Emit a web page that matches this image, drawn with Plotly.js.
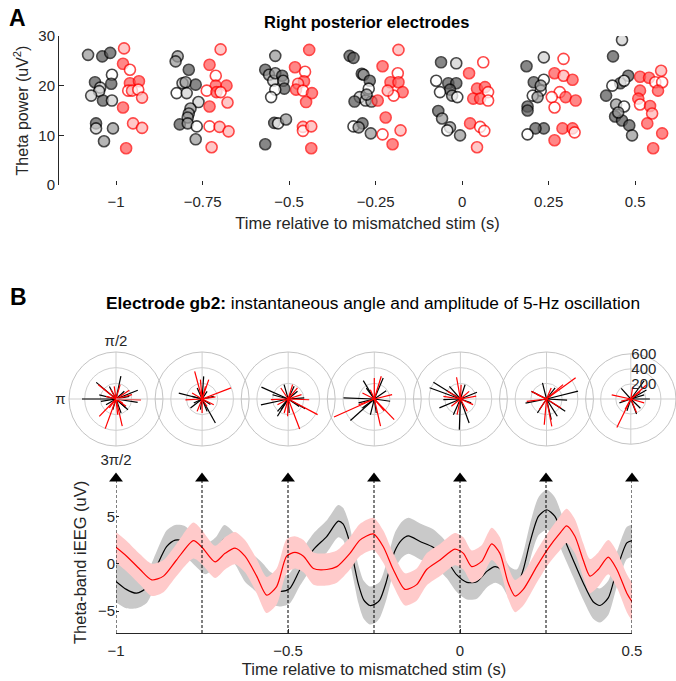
<!DOCTYPE html>
<html><head><meta charset="utf-8">
<script src="https://cdn.plot.ly/plotly-3.0.1.min.js"></script>
<style>html,body{margin:0;padding:0;background:#fff}#chart{width:676px;height:681px}</style>
</head><body><div id="chart"></div>
<script>
// ---------- Panel A data ----------
const times = [-1, -0.75, -0.5, -0.25, 0, 0.25, 0.5];
const blackPower = [
 [26.2,25.9,26.6,20.7,19.6,18.9,18.0,17.0,17.0,22.2,20.4,12.4,11.4,11.4,8.8],
 [25.9,24.9,23.2,20.5,20.7,20.2,18.5,18.5,16.7,15.4,14.4,13.6,12.2,12.4,11.8,9.2],
 [26.0,23.2,22.2,21.0,22.5,22.0,21.0,19.4,19.2,17.7,8.2,12.5,12.4,13.2],
 [26.0,25.6,22.4,22.2,21.0,19.4,17.7,16.8,17.0,16.8,11.8,12.4,11.6,10.4,18.2],
 [24.7,24.5,21.0,20.5,20.5,19.2,18.7,18.0,17.7,14.9,13.4,11.6,11.0,10.0],
 [23.9,25.7,20.7,21.2,19.0,18.0,17.7,15.8,15.0,11.4,11.4,10.2,20.0],
 [29.2,25.9,22.0,20.5,20.0,21.0,18.0,16.2,15.8,13.8,13.0,12.0,10.0,14.6]
];
const blackJitter = [
 [-0.081,-0.040,-0.017,-0.061,-0.046,-0.049,-0.072,-0.038,-0.012,-0.012,-0.014,-0.058,-0.058,-0.009,-0.035],
 [-0.072,-0.078,-0.040,-0.058,-0.049,-0.020,-0.075,-0.046,-0.012,-0.035,-0.040,-0.043,-0.066,-0.043,-0.017,-0.020],
 [-0.040,-0.069,-0.058,-0.046,-0.040,-0.020,-0.017,-0.014,-0.040,-0.052,-0.069,-0.043,-0.032,-0.009],
 [-0.075,-0.064,-0.040,-0.035,-0.017,-0.020,-0.046,-0.061,-0.029,-0.012,-0.064,-0.038,-0.049,-0.014,-0.026],
 [-0.061,-0.017,-0.075,-0.040,-0.017,-0.035,-0.064,-0.029,-0.014,-0.069,-0.058,-0.035,-0.043,-0.006],
 [-0.064,-0.014,-0.043,-0.014,-0.023,-0.046,-0.032,-0.061,-0.061,-0.014,-0.038,-0.061,-0.023],
 [-0.038,-0.064,-0.020,-0.043,-0.066,-0.032,-0.084,-0.055,-0.032,-0.058,-0.038,-0.017,-0.009,-0.049]
];
const blackShade = [
 ['m','d','d','d','l','l','l','d','l','w','d','d','l','m','m'],
 ['m','m','d','l','m','d','w','l','l','m','m','m','d','m','w','m'],
 ['m','d','m','l','m','d','m','d','w','w','d','d','w','m'],
 ['d','d','d','m','d','w','l','d','l','m','w','d','m','m','m'],
 ['d','l','w','d','d','d','w','m','w','d','m','m','w','m'],
 ['d','l','d','w','w','w','m','d','d','d','d','w','m'],
 ['l','d','d','d','w','w','d','m','w','d','d','d','m','m']
];
const redPower = [
 [27.5,24.4,23.2,20.5,20.9,19.0,19.0,19.2,17.6,15.6,12.4,11.5,7.4],
 [27.3,24.2,22.0,20.0,20.0,19.0,18.7,18.7,16.6,15.8,11.8,11.7,10.8,7.6],
 [23.7,22.8,20.9,20.4,19.2,19.0,18.5,16.7,27.2,11.7,10.9,11.8,7.4],
 [23.9,27.2,22.5,20.7,20.7,18.7,18.0,19.0,17.0,13.6,10.2,11.0,8.2],
 [24.7,22.5,19.4,19.7,18.7,17.4,17.4,17.0,12.4,11.7,10.9,7.6],
 [25.4,22.5,22.0,21.2,18.7,17.7,17.7,17.0,15.6,11.4,11.4,10.6,9.0],
 [21.8,21.6,20.7,20.7,23.0,19.0,19.0,17.4,16.2,15.9,14.4,12.4,10.4,7.4]
];
const redJitter = [
 [0.023,0.020,0.040,0.040,0.066,0.035,0.046,0.064,0.075,0.020,0.049,0.075,0.029],
 [0.052,0.020,0.038,0.038,0.069,0.012,0.040,0.052,0.072,0.020,0.020,0.049,0.075,0.026],
 [0.017,0.046,0.043,0.026,0.020,0.040,0.066,0.049,0.058,0.040,0.040,0.064,0.064],
 [0.020,0.066,0.064,0.043,0.066,0.078,0.052,0.035,0.006,0.029,0.020,0.072,0.049],
 [0.061,0.020,0.043,0.066,0.075,0.032,0.052,0.075,0.023,0.052,0.064,0.043],
 [0.043,0.017,0.043,0.069,0.032,0.009,0.049,0.078,0.017,0.040,0.069,0.075,0.017],
 [0.014,0.040,0.058,0.078,0.075,0.014,0.066,0.009,0.014,0.043,0.049,0.035,0.078,0.052]
];
const redShade = [
 ['p','r','w','r','r','w','p','w','p','r','p','p','r'],
 ['p','r','w','r','r','w','r','w','p','r','w','p','p','p'],
 ['r','w','r','p','r','w','r','r','r','p','w','p','r'],
 ['r','p','w','r','r','r','w','p','r','r','w','p','r'],
 ['w','r','r','r','w','r','r','w','r','w','w','p'],
 ['w','r','p','r','w','w','r','r','w','r','r','w','r'],
 ['r','r','w','w','p','r','r','r','w','r','p','r','r','r']
];

// ---------- Panel B polar data (angle in degrees, amplitude) ----------
const blackAngle = [
 [180,78,140,22,-9,118,210,-42,-70,166,189,11,-107,43,-42],
 [166,-61,86,218,206,-34,57,114,-99,13,165,-68],
 [156,192,238,4,-34,106,65,236,40,-86,165,229,-30],
 [178,222,121,67,35,-8,217,194,-82,126,256],
 [160,148,268,-70,22,203,131,-20,246,72,182],
 [14,191,237,-58,-33,104,52,-3,-77,153],
 [0,54,-44,-69,132,199,17,252,30]
];
const blackAmp = [
 [434,300,330,300,280,180,147,170,190,220,195,173,143,145,205],
 [307,350,290,188,118,128,117,154,138,153,132,170],
 [374,356,260,205,169,190,179,166,155,179,208,208,250],
 [394,410,273,290,185,204,190,208,180,173,207],
 [418,406,392,326,228,291,214,146,220,192,218],
 [415,273,213,260,285,211,179,263,271,215],
 [253,303,177,214,189,160,185,165,240]
];
const redAngle = [
 [-2,226,250,33,-36,98,74,233,165,-84,-31,118,15,-77,141],
 [105,21,183,9,75,248,-26,95,-56,149,-90,71],
 [-28,-69,-2,124,50,-92,208,182,73,254,18],
 [204,-46,73,90,-50,14,153,-77,200,113],
 [100,10,149,-61,-24,219,87,171,258,41],
 [36,-79,-95,187,41,-32,236,67,155,153],
 [244,168,42,38,-67,241,193,81,-16]
];
const redAmp = [
 [320,307,402,203,158,163,190,143,132,200,100,135,212,355,290],
 [366,396,213,172,167,170,166,248,113,149,179,261],
 [425,410,268,169,184,221,155,221,191,186,179],
 [563,366,304,268,196,234,170,354,214,129],
 [282,205,193,179,177,148,183,220,204,148],
 [460,356,330,254,280,219,164,153,129,215],
 [422,259,272,160,194,157,130,164,184]
];
const angleGridVals = [0, 90, 180, 270];
const angleLabelVals = [90, 180, 270];
const angleLabelText = ['π/2', 'π', '3π/2'];
const ampTickVals = [200, 400, 600];

// ---------- Panel B time series ----------
const blackT = [-1,-0.97,-0.94,-0.91,-0.882,-0.853,-0.828,-0.80,-0.77,-0.74,-0.71,-0.685,-0.655,-0.625,-0.6,-0.575,-0.55,-0.52,-0.495,-0.465,-0.426,-0.387,-0.354,-0.34,-0.325,-0.31,-0.295,-0.28,-0.262,-0.245,-0.233,-0.215,-0.203,-0.19,-0.17,-0.15,-0.116,-0.078,-0.039,-0.01,0.02,0.049,0.078,0.102,0.12,0.145,0.165,0.184,0.203,0.228,0.252,0.276,0.3,0.329,0.358,0.387,0.407,0.431,0.456,0.485,0.5];
const blackV = [-1.86,-2.7,-3.1,-2.5,-0.3,1.8,2.5,2.4,1.4,0.5,1.3,2.6,1.6,-0.2,-0.9,-1.7,-2.6,-2.9,-2.6,-0.6,1.5,2.9,4.5,4.2,2.8,0.3,-2.2,-3.8,-4.4,-4.2,-3.8,-2.0,-0.3,1.3,2.5,2.95,2.35,1.75,0.4,-1.15,-1.96,-1.9,-0.8,-0.3,-0.6,-2.0,-2.3,-0.6,2.2,5.0,5.7,5.0,2.9,0.4,-2.0,-4.0,-4.4,-3.6,-0.6,2.2,2.45];
const blackSE = [2.2,2.0,1.6,1.6,1.6,1.7,1.6,1.6,1.6,1.6,1.5,1.5,1.6,1.7,1.8,1.8,1.7,1.6,1.6,1.7,1.7,1.7,1.7,1.7,1.8,1.9,2.0,2.0,2.0,2.0,1.9,1.9,1.9,1.9,1.9,1.9,1.9,1.9,1.9,1.8,1.8,1.8,1.7,1.7,1.7,1.7,1.7,1.8,1.9,2.0,2.1,2.0,1.9,1.8,1.8,1.8,1.8,1.8,1.8,1.7,1.7];
const redT = [-1,-0.969,-0.93,-0.896,-0.862,-0.824,-0.775,-0.75,-0.712,-0.683,-0.654,-0.625,-0.591,-0.562,-0.533,-0.504,-0.48,-0.455,-0.426,-0.387,-0.358,-0.32,-0.291,-0.252,-0.223,-0.194,-0.16,-0.126,-0.097,-0.058,-0.015,0.01,0.034,0.063,0.092,0.116,0.14,0.16,0.184,0.223,0.257,0.29,0.31,0.334,0.358,0.378,0.402,0.431,0.456,0.485,0.5];
const redV = [1.75,0.8,-0.6,-1.7,-1.3,0.4,2.45,1.75,0.2,1.1,1.65,0.8,-1.3,-3.3,-2.4,0.8,1.2,0.8,-0.5,-0.6,-0.3,1.1,2.5,3.15,1.8,-0.6,-2.7,-2.2,-0.6,0.4,1.55,1.1,-0.3,0.25,2.1,1.1,-2.0,-3.4,-2.7,-0.3,1.65,3.2,4.0,2.9,0.4,-1.3,-0.6,0.7,-0.6,-3.1,-4.0];
const redSE = [1.6,1.6,1.6,1.7,1.7,1.7,1.9,1.8,1.7,1.7,1.7,1.7,1.8,1.9,1.9,1.8,1.7,1.7,1.7,1.7,1.7,1.7,1.7,1.7,1.7,1.7,1.7,1.7,1.7,1.7,1.7,1.7,1.7,1.7,1.7,1.7,1.7,1.7,1.7,1.7,1.7,1.8,1.8,1.8,1.8,1.8,1.8,1.8,1.9,2.0,2.0];
const markerTimes = [-1,-0.75,-0.5,-0.25,0,0.25,0.5];
const xTicksB = [-1,-0.5,0,0.5];
const yTicksB = [-5,0,5];
const yTicksA = [0,10,20,30];

// ---------- Build ----------
const W = 676, H = 681;
const FONT = 'Liberation Sans, Arial, sans-serif';
const TXT = '#262626';
const greyFill = {d:'#5a5a5a', m:'#9a9a9a', l:'#d2d2d2', w:'#ffffff'};
const redFill = {r:'#ff5a5a', p:'#ffb4b4', w:'#ffffff'};
const px = v => v / W, py = v => 1 - v / H;

const traces = [];
function scatterGroup(power, jitter, shade, fillMap, edge) {
  const x = [], y = [], c = [];
  times.forEach((t, i) => power[i].forEach((v, j) => {
    x.push(t + jitter[i][j]); y.push(v); c.push(fillMap[shade[i][j]]);
  }));
  return {type:'scatter', mode:'markers', x, y, xaxis:'x', yaxis:'y', hoverinfo:'skip',
    marker:{size:11, color:c, opacity:0.72, line:{color:edge, width:1.6}}, showlegend:false};
}
traces.push(scatterGroup(blackPower, blackJitter, blackShade, greyFill, '#000000'));
traces.push(scatterGroup(redPower, redJitter, redShade, redFill, '#ff0000'));

function ann(text, x, y, size, extra) {
  return Object.assign({text, x:px(x), y:py(y), xref:'paper', yref:'paper', showarrow:false,
    xanchor:'center', yanchor:'middle', font:{size, color:'#000'}}, extra || {});
}

const layout = {
  width: W, height: H, margin:{l:0, r:0, t:0, b:0},
  paper_bgcolor:'#ffffff', plot_bgcolor:'rgba(0,0,0,0)',
  font:{family:FONT, color:TXT, size:15},
  showlegend:false,
  xaxis:{domain:[px(59), 1], range:[-1.165, 0.618], tickvals:times, showline:false, zeroline:false,
    showgrid:false, ticks:'inside', ticklen:4, tickcolor:TXT, tickfont:{size:15}, ticklabelstandoff:6,
    title:{text:'Time relative to mismatched stim (s)', font:{size:16.5}, standoff:8}},
  yaxis:{domain:[py(185), py(36)], range:[0,30], tickvals:yTicksA, showline:true, linecolor:TXT, linewidth:1,
    zeroline:false, showgrid:false, ticks:'inside', ticklen:5, tickcolor:TXT, tickfont:{size:15},
    title:{text:'Theta power (uV<sup>2</sup>)', font:{size:16}, standoff:5}},
  xaxis2:{domain:[px(116), px(632)], range:[-1, 0.5], anchor:'y2', tickvals:xTicksB, showline:true, linecolor:TXT,
    linewidth:1, zeroline:false, showgrid:false, ticks:'inside', ticklen:4, tickcolor:TXT, tickfont:{size:15},
    ticklabelstandoff:4, title:{text:'Time relative to mismatched stim (s)', font:{size:16.5}, standoff:5}},
  yaxis2:{domain:[py(633), py(469)], range:[-7.3, 10], anchor:'x2', tickvals:yTicksB, showline:false, zeroline:false,
    showgrid:false, ticks:'inside', ticklen:3, tickcolor:TXT, tickfont:{size:15}},
  annotations:[
    ann('<b>A</b>', 17, 18, 23),
    ann('<b>Right posterior electrodes</b>', 366, 22, 16.5),
    ann('<b>B</b>', 18, 297, 23),
    ann('<b>Electrode gb2:</b> instantaneous angle and amplitude of 5-Hz oscillation', 373, 303, 17.3),
    ann('Theta-band iEEG (uV)', 80, 563, 16.5, {textangle:-90, font:{size:16.5, color:TXT}})
  ]
};

const R = 47, CY = 399;
const polarCenters = times.map((t, k) => 116 + 86.1 * k);
function spokes(ang, amp) {
  const r = [], th = [];
  ang.forEach((a, i) => { r.push(0, amp[i], null); th.push(a, a, null); });
  return {r, th};
}
polarCenters.forEach((cx, k) => {
  const name = k === 0 ? 'polar' : 'polar' + (k + 1);
  let x0 = (cx - R) / W, x1 = Math.min(1, (cx + R) / W);
  const first = k === 0, last = k === polarCenters.length - 1;
  layout[name] = {
    domain:{x:[x0, x1], y:[py(CY + R), py(CY - R)]},
    bgcolor:'rgba(0,0,0,0)',
    radialaxis:{range:[0, 600], tickvals:ampTickVals, showticklabels:last, ticks:'',
      showline:first, linecolor:'#cfcfcf', linewidth:1,
      gridcolor:'#cfcfcf', gridwidth:1, angle:first ? 0 : 90, tickangle:90, side:'clockwise',
      tickfont:{size:15, color:TXT}},
    angularaxis:{tickvals:first ? angleLabelVals : angleGridVals, ticktext:first ? angleLabelText : undefined,
      showticklabels:first, ticks:'', gridcolor:'#cfcfcf', linecolor:'#c4c4c4', linewidth:1, showline:true,
      tickfont:{size:15, color:TXT}}
  };
  if (!first) delete layout[name].angularaxis.ticktext;
  const b = spokes(blackAngle[k], blackAmp[k]);
  const r = spokes(redAngle[k], redAmp[k]);
  traces.push({type:'scatterpolar', mode:'lines', r:b.r, theta:b.th, subplot:name, connectgaps:false,
    line:{color:'#000000', width:1.2}, hoverinfo:'skip'});
  traces.push({type:'scatterpolar', mode:'lines', r:r.r, theta:r.th, subplot:name, connectgaps:false,
    line:{color:'#ff0000', width:1.2}, hoverinfo:'skip'});
});

// bands and lines
const lo = (v, s) => v.map((x, i) => x - s[i]);
const hi = (v, s) => v.map((x, i) => x + s[i]);
const sp = {shape:'spline', smoothing:0.7};
traces.push({type:'scatter', mode:'lines', x:blackT, y:lo(blackV, blackSE), xaxis:'x2', yaxis:'y2',
  line:Object.assign({width:0, color:'#c8c8c8'}, sp), hoverinfo:'skip'});
traces.push({type:'scatter', mode:'lines', x:blackT, y:hi(blackV, blackSE), xaxis:'x2', yaxis:'y2',
  fill:'tonexty', fillcolor:'#c9c9c9', line:Object.assign({width:0, color:'#c8c8c8'}, sp), hoverinfo:'skip'});
traces.push({type:'scatter', mode:'lines', x:blackT, y:blackV, xaxis:'x2', yaxis:'y2',
  line:Object.assign({width:1.2, color:'#000000'}, sp), hoverinfo:'skip'});
traces.push({type:'scatter', mode:'lines', x:redT, y:lo(redV, redSE), xaxis:'x2', yaxis:'y2',
  line:Object.assign({width:0, color:'#ffcccc'}, sp), hoverinfo:'skip'});
traces.push({type:'scatter', mode:'lines', x:redT, y:hi(redV, redSE), xaxis:'x2', yaxis:'y2',
  fill:'tonexty', fillcolor:'#ffcaca', line:Object.assign({width:0, color:'#ffcccc'}, sp), hoverinfo:'skip'});
traces.push({type:'scatter', mode:'lines', x:redT, y:redV, xaxis:'x2', yaxis:'y2',
  line:Object.assign({width:1.2, color:'#ff0000'}, sp), hoverinfo:'skip'});

// dashed markers with arrows
const yLow = layout.yaxis2.range[0], yArrow = 9;
const dx = [], dy = [];
markerTimes.forEach(t => { dx.push(t, t, null); dy.push(yLow, yArrow, null); });
traces.push({type:'scatter', mode:'lines', x:dx, y:dy, xaxis:'x2', yaxis:'y2', cliponaxis:false,
  line:{color:'#000000', width:1, dash:'3px,2px'}, hoverinfo:'skip'});
traces.push({type:'scatter', mode:'markers', x:markerTimes, y:markerTimes.map(() => yArrow), xaxis:'x2', yaxis:'y2',
  cliponaxis:false, marker:{symbol:'triangle-up', size:12, color:'#000000'}, hoverinfo:'skip'});

traces.forEach(t => t.showlegend = false);
Plotly.newPlot('chart', traces, layout, {displayModeBar:false, staticPlot:true});
</script>
</body></html>
